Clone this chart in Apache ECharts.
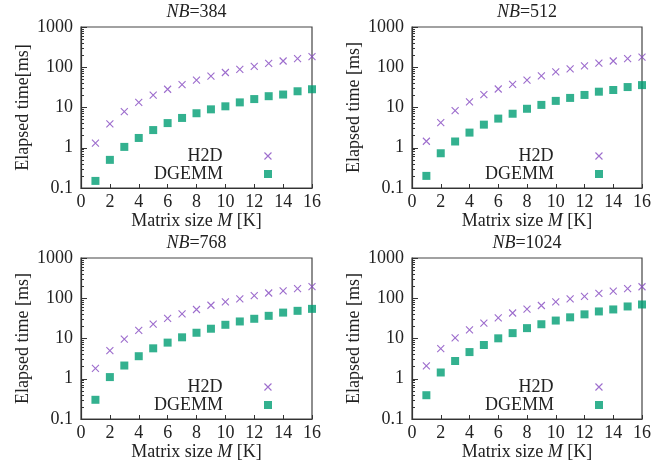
<!DOCTYPE html>
<html>
<head>
<meta charset="utf-8">
<script src="https://cdn.jsdelivr.net/npm/echarts@6/dist/echarts.min.js"></script>
<style>html,body{margin:0;padding:0;background:#fff}#c{width:670px;height:463px}</style>
</head>
<body>
<div id="c"></div>
<script>
const sizes = [1,2,3,4,5,6,7,8,9,10,11,12,13,14,15,16];
const nbLabels = ['384','512','768','1024'];
const h2d384 = [1.3,3.9,7.9,13.4,20.2,28.4,37,48,60,74,89,105,125,143,163,183];
const dgemm384 = [0.15,0.5,1.05,1.75,2.75,4.1,5.5,7.2,9.0,10.7,13.4,16.2,19.1,21,25.3,28.4];
const h2d512 = [1.45,4.2,8.4,13.8,20.9,28.8,37.5,48,61,77,91,108,127,143,163,179];
const dgemm512 = [0.2,0.73,1.43,2.38,3.75,5.3,7.0,9.3,11.6,14.6,17.3,20.5,24.7,27.2,32.2,36];
const h2d768 = [1.8,5.0,9.7,15.9,22.8,31.5,41,52.5,67,81,96,116,135,152,173,194];
const dgemm768 = [0.3,1.1,2.13,3.63,5.7,7.9,10.7,13.9,17.5,21.9,26.5,30.9,36.6,44,48.7,54.5];
const h2d1024 = [2.1,5.6,10.3,16.4,24,32.4,43,54,66,81,96,112,133,151,173,193];
const dgemm1024 = [0.39,1.43,2.76,4.6,6.9,10.1,13.6,18.1,22.6,27.9,33.6,39.8,47,52.7,62.5,70];
const yMajor = [0.1,1,10,100,1000];
const yMinor = [0.2,0.3,0.4,0.5,0.6,0.7,0.8,0.9,2,3,4,5,6,7,8,9,20,30,40,50,60,70,80,90,200,300,400,500,600,700,800,900];
const yNames = ['Elapsed time[ms]','Elapsed time [ms]','Elapsed time [ms]','Elapsed time [ms]'];

const h2dSets = [h2d384,h2d512,h2d768,h2d1024];
const dgemmSets = [dgemm384,dgemm512,dgemm768,dgemm1024];

const FONT = '"Liberation Serif", "DejaVu Serif", serif';
const TXT = '#222';
const AX = '#333';
const PURPLE = '#8548c0';
const GREEN = '#009e73';
const FS = 18;

const grids = [
  {left:81, top:27, width:231, height:161},
  {left:412, top:27, width:230, height:161},
  {left:81, top:258, width:231, height:161},
  {left:412, top:258, width:230, height:161}
];

const option = {
  animation:false,
  backgroundColor:'#fff',
  textStyle:{fontFamily:FONT, color:TXT},
  grid: grids.map(g => Object.assign({show:true, borderColor:'#444', borderWidth:1.2, backgroundColor:'transparent'}, g)),
  title: grids.map((g,i) => ({
    text: '{i|NB}=' + nbLabels[i],
    left: g.left + g.width/2, top: g.top - 24,
    textAlign:'center',
    padding:0,
    textStyle:{fontFamily:FONT, fontSize:FS, fontWeight:'normal', color:TXT,
      rich:{i:{fontFamily:FONT, fontSize:FS, fontStyle:'italic', color:TXT}}}
  })),
  xAxis: grids.map((g,i) => ({
    type:'value', gridIndex:i, min:0, max:16, interval:2,
    name:'Matrix size {i|M} [K]', nameLocation:'middle', nameGap:23,
    nameTextStyle:{fontFamily:FONT, fontSize:FS, color:TXT,
      rich:{i:{fontFamily:FONT, fontSize:FS, fontStyle:'italic', color:TXT}}},
    axisLine:{show:true, lineStyle:{color:AX, width:1.2}},
    axisTick:{show:true, inside:true, length:4, lineStyle:{color:AX}},
    axisLabel:{fontFamily:FONT, fontSize:FS, color:TXT, margin:5},
    splitLine:{show:false}
  })),
  yAxis: [],
  legend: [],
  series: []
};

grids.forEach((g,i) => {
  option.yAxis.push({
    type:'log', logBase:10, gridIndex:i, min:0.1, max:1000,
    name:yNames[i], nameLocation:'middle', nameGap:49,
    nameTextStyle:{fontFamily:FONT, fontSize:FS, color:TXT},
    axisLine:{show:true, lineStyle:{color:AX, width:1.2}},
    axisTick:{show:true, inside:true, length:6, lineStyle:{color:AX}, customValues:yMajor},
    axisLabel:{fontFamily:FONT, fontSize:FS, color:TXT, margin:8, customValues:yMajor,
      formatter: v => String(v)},
    splitLine:{show:false}
  });
});
grids.forEach((g,i) => {
  option.yAxis.push({
    type:'log', logBase:10, gridIndex:i, min:0.1, max:1000, position:'left',
    axisLine:{show:false},
    axisTick:{show:true, inside:true, length:3, lineStyle:{color:AX, width:1}, customValues:yMinor},
    axisLabel:{show:false},
    splitLine:{show:false}
  });
});

grids.forEach((g,i) => {
  const right = 670 - (g.left + 191);
  const h2dName = 'H2D';
  const dgName = 'DGEMM';
  option.series.push({
    type:'scatter', name:h2dName, xAxisIndex:i, yAxisIndex:i,
    symbol:'path://M0,0L10,10M10,0L0,10', symbolSize:7,
    itemStyle:{color:PURPLE, borderColor:PURPLE, borderWidth:1.1},
    data: sizes.map((x,k) => [x, h2dSets[i][k]])
  });
  option.series.push({
    type:'scatter', name:dgName, xAxisIndex:i, yAxisIndex:i,
    symbol:'rect', symbolSize:8,
    itemStyle:{color:GREEN},
    data: sizes.map((x,k) => [x, dgemmSets[i][k]])
  });
  option.legend.push({
    data:[{name:h2dName, itemStyle:{borderWidth:1.1}}], right:right, top:g.top + 120, padding:0, align:'right',
    itemWidth:7, itemHeight:7, selectedMode:false,
    textStyle:{fontFamily:FONT, fontSize:FS, color:TXT, padding:[0,37,0,0]}
  });
  option.legend.push({
    data:[dgName], right:right, top:g.top + 138, padding:0, align:'right',
    itemWidth:8, itemHeight:8, selectedMode:false,
    textStyle:{fontFamily:FONT, fontSize:FS, color:TXT, padding:[0,36,0,0]}
  });
});

const chart = echarts.init(document.getElementById('c'), null, {renderer:'canvas'});
chart.setOption(option);
</script>
</body>
</html>
